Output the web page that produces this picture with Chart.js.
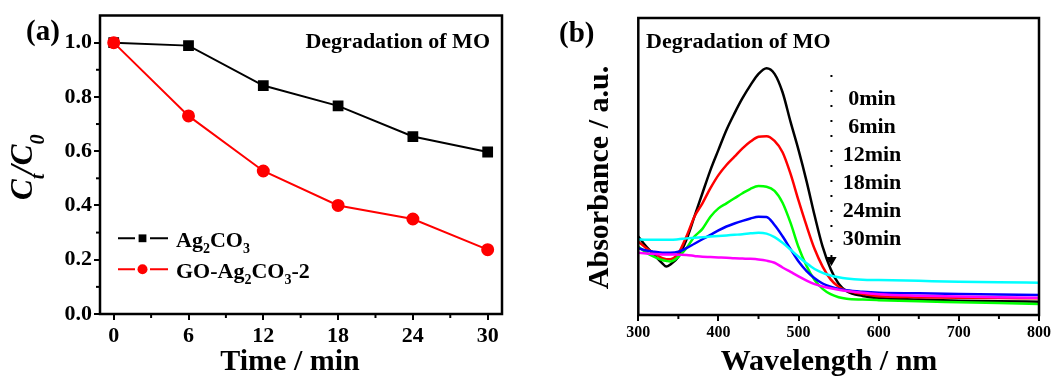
<!DOCTYPE html>
<html>
<head>
<meta charset="utf-8">
<script src="https://cdn.jsdelivr.net/npm/chart.js@4.4.1/dist/chart.umd.min.js"></script>
<style>
  html, body { margin: 0; padding: 0; background: #fff; width: 1055px; height: 376px; overflow: hidden; }
  #chart-a { position: absolute; left: 0; top: 0; }
  #chart-b { position: absolute; left: 540px; top: 0; }
</style>
</head>
<body>
<canvas id="chart-a" width="520" height="376"></canvas>
<canvas id="chart-b" width="515" height="376"></canvas>
<script>
// (a) Ct/C0 against irradiation time
const times = [0, 6, 12, 18, 24, 30];
const ag2co3 = [1.0, 0.989, 0.842, 0.767, 0.654, 0.597];
const goAg2co3 = [1.0, 0.730, 0.527, 0.400, 0.350, 0.237];
const timeTicks = [0, 6, 12, 18, 24, 30];
const timeMinor = [3, 9, 15, 21, 27];
const ratioTicks = [0, 0.2, 0.4, 0.6, 0.8, 1.0];
const ratioMinor = [0.1, 0.3, 0.5, 0.7, 0.9];

// (b) absorption spectra of MO, one series per sampling time
const wavelengths = [300, 310, 320, 330, 335, 340, 350, 360, 370, 380, 390, 400, 410, 420, 430, 440, 450,
  460, 470, 480, 490, 500, 510, 520, 530, 540, 550, 560, 580, 600, 650, 700, 750, 800];
const abs0 = [0.264, 0.230, 0.202, 0.174, 0.163, 0.170, 0.196, 0.253, 0.331, 0.410, 0.488, 0.556, 0.623, 0.679, 0.730, 0.774, 0.812,
  0.831, 0.812, 0.750, 0.650, 0.555, 0.450, 0.335, 0.230, 0.155, 0.105, 0.080, 0.064, 0.057, 0.052, 0.048, 0.046, 0.045];
const abs6 = [0.247, 0.225, 0.208, 0.191, 0.188, 0.188, 0.208, 0.264, 0.331, 0.376, 0.427, 0.471, 0.505, 0.533, 0.561, 0.584, 0.600,
  0.602, 0.586, 0.548, 0.475, 0.385, 0.300, 0.222, 0.163, 0.120, 0.095, 0.082, 0.071, 0.063, 0.060, 0.058, 0.057, 0.056];
const abs12 = [0.230, 0.210, 0.196, 0.185, 0.182, 0.180, 0.196, 0.225, 0.264, 0.290, 0.331, 0.359, 0.376, 0.393, 0.410, 0.425, 0.434,
  0.432, 0.418, 0.378, 0.310, 0.228, 0.165, 0.118, 0.088, 0.070, 0.060, 0.055, 0.052, 0.050, 0.046, 0.043, 0.040, 0.037];
const abs18 = [0.225, 0.217, 0.213, 0.210, 0.210, 0.210, 0.213, 0.225, 0.240, 0.255, 0.270, 0.285, 0.298, 0.308, 0.317, 0.325, 0.331,
  0.330, 0.303, 0.265, 0.222, 0.180, 0.148, 0.124, 0.106, 0.095, 0.088, 0.083, 0.078, 0.075, 0.073, 0.071, 0.069, 0.067];
const abs24 = [0.255, 0.253, 0.253, 0.253, 0.253, 0.253, 0.255, 0.258, 0.260, 0.262, 0.264, 0.266, 0.268, 0.270, 0.272, 0.275, 0.277,
  0.274, 0.262, 0.243, 0.220, 0.196, 0.174, 0.155, 0.142, 0.133, 0.127, 0.123, 0.119, 0.118, 0.115, 0.112, 0.110, 0.109];
const abs30 = [0.210, 0.207, 0.205, 0.204, 0.204, 0.204, 0.203, 0.202, 0.199, 0.196, 0.195, 0.194, 0.193, 0.191, 0.190, 0.189, 0.187,
  0.183, 0.176, 0.160, 0.145, 0.130, 0.116, 0.104, 0.096, 0.090, 0.085, 0.081, 0.075, 0.070, 0.065, 0.062, 0.060, 0.058];
const spectraLabels = ['0min', '6min', '12min', '18min', '24min', '30min'];
const spectraColors = ['#000000', '#ff0000', '#00ff00', '#0000ff', '#00ffff', '#ff00ff'];
const waveTicks = [300, 400, 500, 600, 700, 800];
const waveMinor = [350, 450, 550, 650, 750];
// dotted arrow next to the time labels
const arrowWave = 541;
const arrowFrom = 0.808;
const arrowTo = 0.185;

const FONT = '"Liberation Serif", "Times New Roman", serif';

function richText(ctx, parts, x, y, style, size, subSize, shift) {
  let cx = x;
  parts.forEach(([t, sub]) => {
    ctx.font = `${style} ${sub ? subSize : size}px ${FONT}`;
    ctx.fillText(t, cx, sub ? y + shift : y);
    cx += ctx.measureText(t).width;
  });
  return cx;
}

function drawBox(chart) {
  const ctx = chart.ctx;
  const a = chart.chartArea;
  ctx.save();
  ctx.lineWidth = 2.5;
  ctx.strokeStyle = '#000';
  ctx.strokeRect(a.left, a.top, a.right - a.left, a.bottom - a.top);
  ctx.restore();
}

function minorTicks(chart, id, values, len) {
  const s = chart.scales[id];
  const ctx = chart.ctx;
  ctx.save();
  ctx.strokeStyle = '#000';
  ctx.lineWidth = 2;
  values.forEach(v => {
    const p = s.getPixelForValue(v);
    ctx.beginPath();
    if (s.isHorizontal()) {
      ctx.moveTo(p, s.top);
      ctx.lineTo(p, s.top + len);
    } else {
      ctx.moveTo(s.right, p);
      ctx.lineTo(s.right - len, p);
    }
    ctx.stroke();
  });
  ctx.restore();
}

const yTitleA = [['C', 0], ['t', 1], ['/C', 0], ['0', 1]];
const legendA = [
  [['Ag', 0], ['2', 1], ['CO', 0], ['3', 1]],
  [['GO-Ag', 0], ['2', 1], ['CO', 0], ['3', 1], ['-2', 0]]
];

const panelA = {
  id: 'panelA',
  afterDraw(chart) {
    drawBox(chart);
    minorTicks(chart, 'x', timeMinor, 4);
    minorTicks(chart, 'y', ratioMinor, 4);
    const ctx = chart.ctx;
    ctx.save();
    ctx.fillStyle = '#000';
    ctx.textBaseline = 'middle';
    ctx.textAlign = 'left';
    ctx.font = `bold 29px ${FONT}`;
    ctx.fillText('(a)', 26, 33);
    ctx.textAlign = 'right';
    ctx.font = `bold 22px ${FONT}`;
    ctx.fillText('Degradation of MO', 490, 42);
    ctx.textAlign = 'center';
    ctx.font = `bold 30px ${FONT}`;
    ctx.fillText('Time / min', 290, 362);

    // y title with subscripts
    ctx.save();
    ctx.translate(32, 200);
    ctx.rotate(-Math.PI / 2);
    ctx.textAlign = 'left';
    ctx.textBaseline = 'alphabetic';
    richText(ctx, yTitleA, 0, 0, 'italic bold', 31, 20, 12);
    ctx.restore();

    // legend
    const rows = [
      { ds: chart.data.datasets[1], y: 238.3, parts: legendA[0] },
      { ds: chart.data.datasets[0], y: 269.3, parts: legendA[1] }
    ];
    rows.forEach(r => {
      ctx.strokeStyle = r.ds.borderColor;
      ctx.fillStyle = r.ds.borderColor;
      ctx.lineWidth = 2;
      ctx.beginPath();
      ctx.moveTo(118, r.y); ctx.lineTo(135, r.y);
      ctx.moveTo(150, r.y); ctx.lineTo(168, r.y);
      ctx.stroke();
      ctx.beginPath();
      if (r.ds.pointStyle === 'rect') {
        ctx.rect(142.5 - 3.9, r.y - 3.9, 7.8, 7.8);
      } else {
        ctx.arc(142.5, r.y, 5, 0, Math.PI * 2);
      }
      ctx.fill();
      ctx.fillStyle = '#000';
      ctx.textAlign = 'left';
      ctx.textBaseline = 'alphabetic';
      richText(ctx, r.parts, 176, r.y + 8.4, 'bold', 22, 14, 6);
    });
    ctx.restore();
  }
};

const panelB = {
  id: 'panelB',
  afterDraw(chart) {
    drawBox(chart);
    minorTicks(chart, 'x', waveMinor, 4);
    const ctx = chart.ctx;
    ctx.save();
    ctx.fillStyle = '#000';
    ctx.textBaseline = 'middle';
    ctx.textAlign = 'left';
    ctx.font = `bold 29px ${FONT}`;
    ctx.fillText('(b)', 19, 35);
    ctx.font = `bold 22px ${FONT}`;
    ctx.fillText('Degradation of MO', 106, 42);
    ctx.textAlign = 'center';
    spectraLabels.forEach((t, i) => ctx.fillText(t, 332, 99 + 28 * i));
    ctx.font = `bold 30px ${FONT}`;
    ctx.fillText('Wavelength / nm', 289, 362);
    ctx.translate(60, 177.5);
    ctx.rotate(-Math.PI / 2);
    ctx.fillText('Absorbance / a.u.', 0, 0);
    ctx.restore();
  }
};

const tickFontA = { family: FONT, size: 22, weight: 'bold' };
const tickFontB = { family: FONT, size: 16, weight: 'bold' };

new Chart(document.getElementById('chart-a'), {
  type: 'line',
  data: {
    datasets: [
      {
        label: 'GO-Ag2CO3-2',
        data: times.map((t, i) => ({ x: t, y: goAg2co3[i] })),
        borderColor: '#ff0000',
        backgroundColor: '#ff0000',
        pointStyle: 'circle',
        pointRadius: 5.5,
        borderWidth: 2,
        order: 0
      },
      {
        label: 'Ag2CO3',
        data: times.map((t, i) => ({ x: t, y: ag2co3[i] })),
        borderColor: '#000000',
        backgroundColor: '#000000',
        pointStyle: 'rect',
        pointRadius: 6.2,
        borderWidth: 2,
        order: 1
      }
    ]
  },
  options: {
    responsive: false,
    animation: false,
    devicePixelRatio: 1,
    layout: { padding: { top: 15.5, right: 18, left: 0, bottom: 0 } },
    plugins: { legend: { display: false }, tooltip: { enabled: false } },
    scales: {
      x: {
        type: 'linear',
        min: -1.1,
        max: 31.15,
        afterBuildTicks: s => { s.ticks = timeTicks.map(v => ({ value: v })); },
        afterFit: s => { s.height = 62; },
        ticks: { font: tickFontA, color: '#000', padding: 3, maxRotation: 0, autoSkip: false },
        grid: { drawOnChartArea: false, tickLength: 6, lineWidth: 2, color: '#000' },
        border: { display: false }
      },
      y: {
        type: 'linear',
        min: 0,
        max: 1.1,
        afterBuildTicks: s => { s.ticks = ratioTicks.map(v => ({ value: v })); },
        afterFit: s => { s.width = 100; },
        ticks: { font: tickFontA, color: '#000', padding: 2, autoSkip: false, callback: v => v.toFixed(1) },
        grid: { drawOnChartArea: false, tickLength: 6, lineWidth: 2, color: '#000' },
        border: { display: false }
      }
    }
  },
  plugins: [panelA]
});

const spectra = [abs0, abs6, abs12, abs18, abs24, abs30];
const datasetsB = spectra.map((vals, i) => ({
  label: spectraLabels[i],
  data: wavelengths.map((w, j) => ({ x: w, y: vals[j] })),
  borderColor: spectraColors[i],
  borderWidth: 2.5,
  pointRadius: 0,
  cubicInterpolationMode: 'monotone',
  order: 6 - i
}));
datasetsB.push({
  label: 'arrow',
  data: [{ x: arrowWave, y: arrowFrom }, { x: arrowWave, y: arrowTo }],
  borderColor: '#000',
  backgroundColor: '#000',
  borderWidth: 2,
  borderDash: [2, 13],
  pointStyle: 'triangle',
  pointRadius: [0, 4],
  pointRotation: 180,
  order: 0
});

new Chart(document.getElementById('chart-b'), {
  type: 'line',
  data: { datasets: datasetsB },
  options: {
    responsive: false,
    animation: false,
    devicePixelRatio: 1,
    layout: { padding: { top: 18, right: 16, left: 0, bottom: 0 } },
    plugins: { legend: { display: false }, tooltip: { enabled: false } },
    scales: {
      x: {
        type: 'linear',
        min: 300,
        max: 800,
        afterBuildTicks: s => { s.ticks = waveTicks.map(v => ({ value: v })); },
        afterFit: s => { s.height = 61; },
        ticks: { font: tickFontB, color: '#000', padding: 2, maxRotation: 0, autoSkip: false },
        grid: { drawOnChartArea: false, tickLength: 6, lineWidth: 2, color: '#000' },
        border: { display: false }
      },
      y: {
        type: 'linear',
        min: 0,
        max: 1,
        afterFit: s => { s.width = 98.3; },
        ticks: { display: false },
        grid: { display: false },
        border: { display: false }
      }
    }
  },
  plugins: [panelB]
});
</script>
</body>
</html>
